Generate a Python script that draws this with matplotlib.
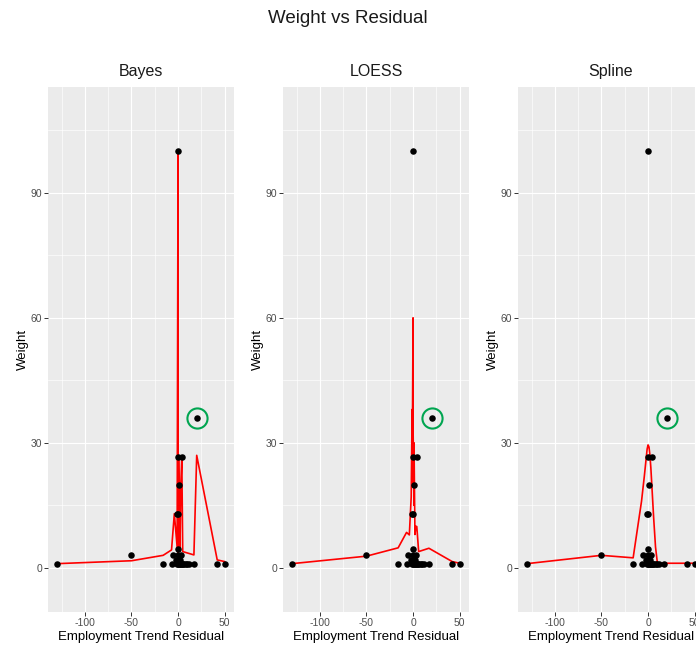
import numpy as np
import matplotlib
matplotlib.use("Agg")
import matplotlib.pyplot as plt

plt.rcParams['font.family'] = ['Liberation Sans', 'DejaVu Sans']
plt.rcParams['axes.unicode_minus'] = False

# observed points (same in every panel)
res_x = [-130, -50, 0, 20, 0, 4, 1, -1, 0, 0, -5, 0, 3, -2, 2,
         -16, -7, -1, 0, 1, 2, 3, 4, 5, 6, 8, 10, 12, 17, 42, 50]
wt_y = [1, 3, 100, 36, 26.5, 26.5, 20, 13, 13, 4.5, 3, 3, 3, 2, 2,
        1, 1, 1, 1, 1, 1, 1, 1, 1, 1, 1, 1, 1, 1, 1, 1]

# fitted lines
bayes_x = [-130, -50, -16, -7, -4, -1, 0, 0, 1, 2, 3, 4, 5, 17, 20, 42, 50]
bayes_y = [1.0, 1.7, 3.0, 4.3, 13, 5, 100, 3, 26.5, 4, 20, 26.5, 3.9, 3.1, 27, 1.9, 1.5]

loess_x = [-130, -50, -16, -7, -4, -2, -1, -1, 0, 0, 0, 1, 1, 2, 3, 4, 6, 17, 42, 50]
loess_y = [1.0, 2.8, 4.8, 8.5, 7.9, 17, 38, 20, 60, 25, 34, 15, 30, 8, 10, 9.9, 3.9, 4.7, 1.5, 1.1]

spline_x = [-130, -50, -16, -7, -4, -1, 0, 1, 2, 3, 4, 5, 6, 8, 10, 12, 17, 42, 50]
spline_y = [1.0, 3.0, 2.4, 16, 22, 28.5, 29.5, 29, 27, 24, 20, 16, 12, 5, 1.2, 1.1, 1.1, 1.1, 1.1]

panels = ['Bayes', 'LOESS', 'Spline']
lines = [(bayes_x, bayes_y), (loess_x, loess_y), (spline_x, spline_y)]
circle_xy = (20, 36)

fig = plt.figure(figsize=(6.96, 6.45), dpi=100)
fig.suptitle('Weight vs Residual', x=0.5, y=0.972, va='center', fontsize=13.5, color='#1a1a1a')

lefts = [48, 283, 518]
for i, name in enumerate(panels):
    ax = fig.add_axes([lefts[i] / 696, 1 - 612 / 645, 186 / 696, 525 / 645])
    ax.set_facecolor('#EBEBEB')
    for s in ax.spines.values():
        s.set_visible(False)
    ax.set_xlim(-139.5, 60)
    ax.set_ylim(-10.6, 115.4)
    ax.set_xticks([-100, -50, 0, 50])
    ax.set_xticks([-125, -75, -25, 25], minor=True)
    ax.set_yticks([0, 30, 60, 90])
    ax.set_yticks([15, 45, 75, 105], minor=True)
    ax.grid(which='major', color='white', lw=0.85)
    ax.grid(which='minor', color='white', lw=0.45)
    ax.set_axisbelow(True)
    ax.tick_params(which='major', length=2.7, width=0.7, color='#333333',
                   labelsize=7.5, labelcolor='#4D4D4D', pad=1.5)
    ax.tick_params(which='minor', length=0)

    lx, ly = lines[i]
    ax.plot(lx, ly, color='red', lw=1.2, zorder=2)
    ax.scatter(res_x, wt_y, s=22, color='black', zorder=3, linewidths=0)
    ax.plot(*circle_xy, marker='o', ms=14.5, mfc='none', mec='#00A550', mew=1.5, zorder=4)

    ax.set_title(name, fontsize=11.5, color='#1a1a1a', pad=8)
    ax.set_xlabel('Employment Trend Residual', fontsize=9.5, labelpad=2)
    ax.set_ylabel('Weight', fontsize=9.5)
    ax.yaxis.set_label_coords(-0.105, 0.5)

fig.savefig('out.png', dpi=100)
